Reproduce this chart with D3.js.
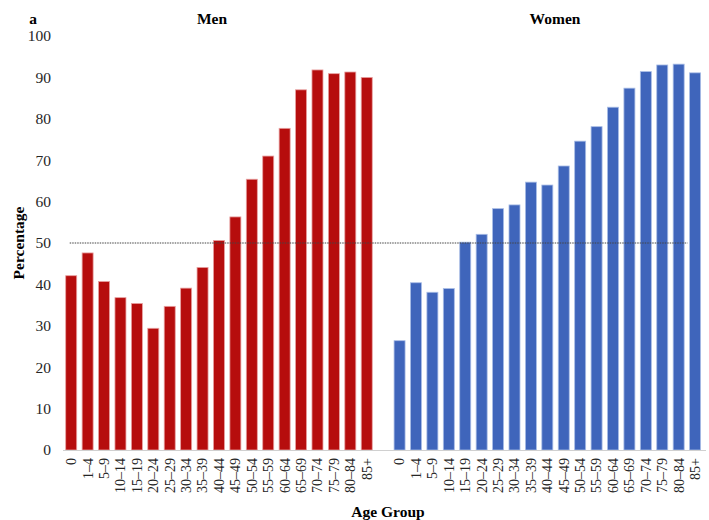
<!DOCTYPE html>
<html>
<head>
<meta charset="utf-8">
<script src="https://cdn.jsdelivr.net/npm/d3@7"></script>
<style>
  html, body { margin: 0; padding: 0; background: #fff; }
  svg { display: block; }
  text { font-family: "Liberation Serif", "Times New Roman", serif; }
</style>
</head>
<body>
<svg id="chart" width="709" height="520"></svg>
<script>
// Age groups shared by both panels
const ageGroups = ["0", "1–4", "5–9", "10–14", "15–19", "20–24", "25–29", "30–34", "35–39",
  "40–44", "45–49", "50–54", "55–59", "60–64", "65–69", "70–74", "75–79", "80–84", "85+"];

// Percentage per age group
const menValues = [42.1, 47.6, 40.7, 36.8, 35.4, 29.4, 34.7, 39.1, 44.1,
  50.6, 56.3, 65.4, 71.0, 77.7, 87.0, 91.8, 90.9, 91.3, 90.0];
const womenValues = [26.4, 40.4, 38.1, 39.0, 50.2, 52.1, 58.3, 59.2, 64.7,
  64.0, 68.6, 74.6, 78.1, 82.8, 87.4, 91.4, 93.0, 93.2, 91.1];

const yTicks = [0, 10, 20, 30, 40, 50, 60, 70, 80, 90, 100];
const referenceLevel = 50;

const svg = d3.select("#chart");
const margin = { left: 63, right: 5, top: 36, bottom: 70 };
const W = 709, H = 520;

// One band per bar, with an empty slot separating the two groups
const menKeys = ageGroups.map(a => "M|" + a);
const womenKeys = ageGroups.map(a => "W|" + a);
const domain = [...menKeys, "gap", ...womenKeys];

const x = d3.scaleBand()
  .domain(domain)
  .range([margin.left, W - margin.right - 0.7])
  .paddingInner(0.33)
  .paddingOuter(0.165);

const y = d3.scaleLinear().domain([0, 100]).range([H - margin.bottom, margin.top]);

// Y axis (labels only)
const yAxis = svg.append("g")
  .attr("transform", `translate(${margin.left},0)`)
  .call(d3.axisLeft(y).tickValues(yTicks).tickSize(0).tickPadding(12));
yAxis.select(".domain").remove();
yAxis.selectAll("text")
  .attr("font-family", "Liberation Serif, Times New Roman, serif")
  .attr("font-size", 15.5)
  .attr("fill", "#262626");

// Bars
const menData = ageGroups.map((a, i) => ({ key: "M|" + a, v: menValues[i] }));
const womenData = ageGroups.map((a, i) => ({ key: "W|" + a, v: womenValues[i] }));

function drawBars(data, fill, edge) {
  svg.append("g").selectAll("rect")
    .data(data)
    .join("rect")
    .attr("x", d => x(d.key))
    .attr("y", d => y(d.v))
    .attr("width", x.bandwidth())
    .attr("height", d => y(0) - y(d.v))
    .attr("fill", fill)
    .attr("stroke", edge)
    .attr("stroke-width", 0.8);
}
drawBars(menData, "#b60d0d", "#e8a0a0");
drawBars(womenData, "#3f65bb", "#a9bde6");

// X axis
const xAxis = svg.append("g")
  .attr("transform", `translate(0,${y(0)})`)
  .call(d3.axisBottom(x).tickSize(0)
    .tickFormat(k => k === "gap" ? "" : k.split("|")[1]));
xAxis.select(".domain")
  .attr("stroke", "#d0d0d0")
  .attr("stroke-width", 1.2)
  .attr("d", `M${margin.left},0.5H${W - 3}`);
xAxis.selectAll("text")
  .attr("font-family", "Liberation Serif, Times New Roman, serif")
  .attr("font-size", 14)
  .attr("fill", "#262626")
  .attr("transform", "rotate(-90)")
  .attr("x", -8)
  .attr("y", 0)
  .attr("dy", "0.35em")
  .attr("text-anchor", "end");

// Dotted 50% reference line
svg.append("line")
  .attr("x1", x(menKeys[0]) + 4)
  .attr("x2", x(womenKeys[womenKeys.length - 1]) - 2)
  .attr("y1", y(referenceLevel))
  .attr("y2", y(referenceLevel))
  .attr("stroke", "#444")
  .attr("stroke-width", 1)
  .attr("stroke-dasharray", "1.5,1");

// Panel titles
const titleFont = { size: 15.5, weight: "bold" };
svg.append("text").attr("x", 33).attr("y", 24)
  .attr("text-anchor", "middle")
  .attr("font-size", titleFont.size).attr("font-weight", titleFont.weight)
  .text("a");
svg.append("text").attr("x", 212).attr("y", 24)
  .attr("text-anchor", "middle")
  .attr("font-size", titleFont.size).attr("font-weight", titleFont.weight)
  .text("Men");
svg.append("text").attr("x", 555).attr("y", 24)
  .attr("text-anchor", "middle")
  .attr("font-size", titleFont.size).attr("font-weight", titleFont.weight)
  .text("Women");

// Axis titles
svg.append("text")
  .attr("transform", `translate(24,${y(50)}) rotate(-90)`)
  .attr("text-anchor", "middle")
  .attr("font-size", 15.5).attr("font-weight", "bold")
  .text("Percentage");
svg.append("text")
  .attr("x", 388).attr("y", 517)
  .attr("text-anchor", "middle")
  .attr("font-size", 15.5).attr("font-weight", "bold")
  .text("Age Group");
</script>
</body>
</html>
